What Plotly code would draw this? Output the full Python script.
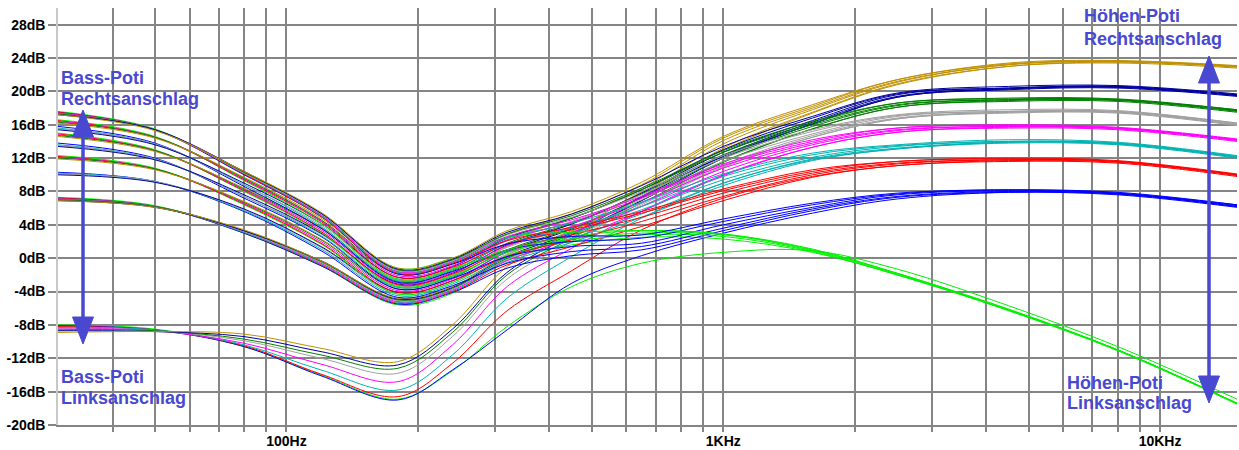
import math
import plotly.graph_objects as go

# ---------------- data ----------------
FREQ_HZ = [30, 50, 80, 120, 180, 240, 320, 450, 650, 1000, 1600, 2500, 4500, 8000, 15000]

# bass pot fully left (bottom group), treble positions T0..T8
B0_T0 = [-8.0, -8.5, -10.6, -14.0, -16.9, -13.5, -8.2, -3.4, -0.6, 0.7, 0.9, -1.3, -5.7, -10.6, -16.9]
B0_T1 = [-8.1, -8.6, -10.6, -14.1, -17.0, -13.4, -8.6, -3.0, 0.3, 3.0, 5.4, 7.1, 7.9, 7.7, 6.2]
B0_T2 = [-8.2, -8.6, -10.5, -13.9, -16.6, -12.6, -6.3, -1.5, 3.4, 7.2, 9.8, 11.1, 11.7, 11.5, 9.9]
B0_T3 = [-8.3, -8.6, -10.4, -13.4, -15.8, -11.6, -4.8, 0.2, 4.8, 9.0, 11.8, 13.1, 13.9, 13.7, 12.1]
B0_T4 = [-8.4, -8.7, -10.2, -12.7, -14.8, -10.4, -3.4, 1.2, 5.6, 10.0, 13.3, 15.1, 15.7, 15.5, 14.1]
B0_T5 = [-8.5, -8.7, -9.9, -12.0, -13.8, -9.4, -2.5, 2.0, 6.4, 11.0, 14.5, 16.7, 17.5, 17.5, 16.0]
B0_T6 = [-8.6, -8.7, -9.7, -11.6, -13.2, -8.9, -2.0, 2.4, 6.9, 11.6, 15.5, 18.1, 18.9, 18.9, 17.6]
B0_T7 = [-8.7, -8.8, -9.4, -11.2, -12.8, -8.5, -1.7, 2.8, 7.4, 12.2, 16.1, 19.3, 20.3, 20.5, 19.5]
B0_T8 = [-8.9, -8.8, -9.1, -10.8, -12.4, -8.0, -1.0, 3.2, 7.9, 13.0, 17.4, 20.8, 23.0, 23.5, 22.9]

B1_T0 = [7.3, 6.3, 3.0, -0.9, -5.6, -4.2, -0.2, 1.6, 2.5, 2.3, 0.7, -2.0, -6.3, -11.1, -17.5]
B1_T1 = [7.2, 6.2, 3.0, -0.9, -5.5, -4.1, -1.2, 0.3, 1.0, 3.3, 5.7, 7.3, 7.9, 7.6, 6.1]
B1_T2 = [7.2, 6.2, 3.1, -0.8, -5.4, -4.0, -0.8, 1.4, 3.8, 6.9, 9.7, 11.1, 11.6, 11.4, 9.8]
B1_T3 = [7.1, 6.2, 3.1, -0.7, -5.3, -3.9, -0.5, 1.9, 4.9, 8.7, 11.7, 13.1, 13.8, 13.6, 12.0]
B1_T4 = [7.1, 6.2, 3.2, -0.6, -5.2, -3.8, -0.3, 2.3, 5.6, 9.9, 13.3, 15.1, 15.6, 15.4, 14.0]
B1_T5 = [7.0, 6.2, 3.2, -0.5, -5.1, -3.7, -0.1, 2.6, 6.2, 10.9, 14.5, 16.7, 17.4, 17.4, 15.9]
B1_T6 = [7.0, 6.2, 3.3, -0.4, -5.0, -3.6, 0.0, 2.8, 6.6, 11.5, 15.5, 18.1, 18.8, 18.8, 17.5]
B1_T7 = [6.9, 6.1, 3.3, -0.3, -4.9, -3.5, 0.2, 3.0, 6.9, 12.0, 16.1, 19.3, 20.2, 20.4, 19.4]
B1_T8 = [6.9, 6.1, 3.4, -0.3, -4.8, -3.4, 0.4, 3.3, 7.3, 13.2, 17.5, 20.9, 23.0, 23.4, 22.8]

B2_T1 = [10.3, 9.2, 5.6, 0.9, -4.7, -3.3, -0.6, 0.8, 1.4, 3.6, 5.9, 7.4, 8.0, 7.7, 6.2]
B2_T3 = [10.2, 9.2, 5.7, 1.1, -4.5, -3.1, 0.1, 2.4, 5.3, 9.0, 11.9, 13.2, 13.9, 13.7, 12.1]
B2_T5 = [10.1, 9.2, 5.8, 1.3, -4.3, -2.9, 0.5, 3.1, 6.6, 11.2, 14.7, 16.8, 17.5, 17.5, 16.0]
B2_T7 = [10.0, 9.1, 5.9, 1.4, -4.1, -2.7, 0.8, 3.5, 7.3, 12.3, 16.3, 19.4, 20.3, 20.5, 19.5]

B3_T0 = [12.3, 10.8, 6.4, 1.7, -4.3, -2.9, 0.3, 2.0, 2.8, 2.6, 0.8, -2.0, -6.2, -11.0, -17.4]
B3_T2 = [12.2, 10.7, 6.5, 1.8, -4.1, -2.7, 0.2, 2.2, 4.4, 7.4, 10.0, 11.3, 11.8, 11.6, 10.0]
B3_T4 = [12.1, 10.7, 6.6, 2.0, -3.9, -2.5, 0.7, 3.1, 6.2, 10.4, 13.6, 15.3, 15.8, 15.6, 14.2]
B3_T6 = [12.0, 10.7, 6.7, 2.2, -3.7, -2.3, 1.0, 3.6, 7.2, 12.0, 15.8, 18.3, 19.0, 19.0, 17.7]
B3_T8 = [11.9, 10.6, 6.8, 2.3, -3.5, -2.1, 1.4, 4.1, 7.9, 13.7, 17.8, 21.1, 23.2, 23.6, 23.0]

B4_T1 = [13.8, 12.0, 7.2, 2.6, -3.7, -2.4, 0.2, 1.4, 1.8, 4.0, 6.1, 7.6, 8.1, 7.8, 6.3]
B4_T3 = [13.6, 11.9, 7.4, 2.7, -3.5, -2.2, 0.9, 3.0, 5.8, 9.4, 12.1, 13.4, 14.0, 13.8, 12.2]
B4_T5 = [13.5, 11.9, 7.4, 2.9, -3.3, -2.0, 1.3, 3.7, 7.0, 11.6, 14.9, 17.0, 17.6, 17.6, 16.1]
B4_T7 = [13.4, 11.8, 7.6, 3.0, -3.1, -1.8, 1.6, 4.1, 7.8, 12.7, 16.5, 19.6, 20.4, 20.6, 19.6]

B5_T0 = [15.0, 13.0, 8.0, 3.1, -3.4, -2.1, 0.7, 2.3, 3.0, 2.8, 0.9, -1.9, -6.2, -11.0, -17.4]
B5_T2 = [14.9, 12.9, 8.1, 3.2, -3.2, -1.9, 1.0, 2.8, 4.9, 7.8, 10.2, 11.4, 11.8, 11.6, 10.0]
B5_T4 = [14.8, 12.9, 8.2, 3.4, -3.0, -1.7, 1.5, 3.8, 6.7, 10.8, 13.8, 15.4, 15.8, 15.6, 14.2]
B5_T6 = [14.7, 12.9, 8.3, 3.6, -2.8, -1.5, 1.8, 4.2, 7.7, 12.4, 16.0, 18.4, 19.0, 19.0, 17.7]
B5_T8 = [14.6, 12.8, 8.4, 3.7, -2.6, -1.3, 2.2, 4.8, 8.4, 14.1, 18.0, 21.2, 23.2, 23.6, 23.0]

B6_T1 = [15.8, 13.8, 8.6, 3.6, -2.9, -1.6, 1.0, 2.0, 2.4, 4.4, 6.4, 7.7, 8.2, 7.8, 6.4]
B6_T3 = [15.6, 13.7, 8.8, 3.8, -2.7, -1.4, 1.7, 3.6, 6.2, 9.8, 12.4, 13.5, 14.0, 13.8, 12.2]
B6_T5 = [15.5, 13.7, 8.8, 4.0, -2.5, -1.2, 2.1, 4.4, 7.6, 12.0, 15.2, 17.1, 17.6, 17.6, 16.2]
B6_T7 = [15.4, 13.6, 9.0, 4.2, -2.3, -1.0, 2.4, 4.8, 8.2, 13.0, 16.8, 19.7, 20.4, 20.6, 19.6]

B7_T0 = [16.6, 14.6, 9.3, 4.2, -2.5, -1.3, 1.0, 2.6, 3.3, 2.9, 1.0, -1.8, -6.2, -11.0, -17.4]
B7_T2 = [16.5, 14.5, 9.4, 4.4, -2.3, -1.1, 1.7, 3.4, 5.4, 8.1, 10.4, 11.6, 11.9, 11.6, 10.0]
B7_T4 = [16.4, 14.5, 9.5, 4.5, -2.1, -0.9, 2.2, 4.3, 7.2, 11.1, 14.0, 15.6, 15.9, 15.6, 14.2]
B7_T6 = [16.3, 14.5, 9.6, 4.6, -1.9, -0.7, 2.5, 4.8, 8.2, 12.7, 16.2, 18.6, 19.1, 19.0, 17.8]
B7_T8 = [16.2, 14.4, 9.7, 4.8, -1.7, -0.5, 2.9, 5.3, 8.8, 14.4, 18.2, 21.4, 23.3, 23.6, 23.0]

B8_T0 = [17.6, 15.5, 10.1, 5.2, -1.2, 0.0, 2.5, 3.1, 3.3, 2.9, 1.1, -1.8, -6.1, -11.0, -17.4]
B8_T1 = [17.5, 15.4, 10.0, 5.0, -1.9, -0.7, 1.7, 2.6, 2.8, 4.7, 6.6, 7.8, 8.2, 7.9, 6.4]
B8_T2 = [17.5, 15.4, 10.1, 5.0, -1.8, -0.6, 2.1, 3.7, 5.6, 8.3, 10.6, 11.6, 12.0, 11.7, 10.1]
B8_T3 = [17.4, 15.4, 10.2, 5.1, -1.7, -0.5, 2.4, 4.2, 6.7, 10.1, 12.6, 13.6, 14.2, 13.9, 12.3]
B8_T4 = [17.4, 15.4, 10.2, 5.2, -1.6, -0.4, 2.6, 4.6, 7.4, 11.3, 14.2, 15.6, 16.0, 15.7, 14.3]
B8_T5 = [17.3, 15.4, 10.2, 5.3, -1.5, -0.3, 2.8, 4.9, 8.0, 12.3, 15.4, 17.2, 17.8, 17.7, 16.2]
B8_T6 = [17.3, 15.4, 10.3, 5.4, -1.4, -0.2, 2.9, 5.1, 8.4, 12.9, 16.4, 18.6, 19.2, 19.1, 17.8]
B8_T7 = [17.2, 15.4, 10.4, 5.4, -1.3, -0.1, 3.1, 5.3, 8.7, 13.4, 17.0, 19.8, 20.6, 20.7, 19.7]
B8_T8 = [17.2, 15.3, 10.4, 5.5, -1.2, 0.0, 3.3, 5.6, 9.1, 14.6, 18.4, 21.4, 23.4, 23.7, 23.1]

# trace colour for each treble-pot step
TREBLE_COLORS = ['#00F000', '#0000FF', '#FF0000', '#00B4B4', '#FF00FF',
                 '#A0A0A0', '#008000', '#0000A0', '#C09000']

CURVES = [
    (B0_T0, 0), (B0_T1, 1), (B0_T2, 2), (B0_T3, 3), (B0_T4, 4), (B0_T5, 5), (B0_T6, 6), (B0_T7, 7), (B0_T8, 8),
    (B1_T0, 0), (B1_T1, 1), (B1_T2, 2), (B1_T3, 3), (B1_T4, 4), (B1_T5, 5), (B1_T6, 6), (B1_T7, 7), (B1_T8, 8),
    (B2_T1, 1), (B2_T3, 3), (B2_T5, 5), (B2_T7, 7),
    (B3_T0, 0), (B3_T2, 2), (B3_T4, 4), (B3_T6, 6), (B3_T8, 8),
    (B4_T1, 1), (B4_T3, 3), (B4_T5, 5), (B4_T7, 7),
    (B5_T0, 0), (B5_T2, 2), (B5_T4, 4), (B5_T6, 6), (B5_T8, 8),
    (B6_T1, 1), (B6_T3, 3), (B6_T5, 5), (B6_T7, 7),
    (B7_T0, 0), (B7_T2, 2), (B7_T4, 4), (B7_T6, 6), (B7_T8, 8),
    (B8_T0, 0), (B8_T1, 1), (B8_T2, 2), (B8_T3, 3), (B8_T4, 4), (B8_T5, 5), (B8_T6, 6), (B8_T7, 7), (B8_T8, 8),
]

X_GRID_HZ = [40, 50, 60, 70, 80, 90, 100, 200, 300, 400, 500, 600, 700, 800, 900,
             1000, 2000, 3000, 4000, 5000, 6000, 7000, 8000, 9000, 10000]
X_LABELS = {100: '100Hz', 1000: '1KHz', 10000: '10KHz'}
Y_TICKS_DB = [-20, -16, -12, -8, -4, 0, 4, 8, 12, 16, 20, 24, 28]

# ---------------- figure ----------------
W, H = 1239, 450
ML, MR, MT, MB = 58, 2, 8, 25
PW, PH = W - ML - MR, H - MT - MB

def px_x(px):
    return (px - ML) / PW

def px_y(py):
    return (H - MB - py) / PH

fig = go.Figure()
for vals, t in CURVES:
    fig.add_trace(go.Scatter(
        x=FREQ_HZ, y=vals, mode='lines',
        line=dict(color=TREBLE_COLORS[t], width=1.0, shape='spline', smoothing=1.0),
        hoverinfo='skip', showlegend=False))

FONT = 'Liberation Sans, Arial, sans-serif'
BLUE = '#4848D0'

fig.update_layout(
    width=W, height=H,
    margin=dict(l=ML, r=MR, t=MT, b=MB, pad=0, autoexpand=False),
    paper_bgcolor='white', plot_bgcolor='white',
    showlegend=False,
    font=dict(family=FONT, color='black'),
    xaxis=dict(
        type='log', range=[math.log10(30), math.log10(15000)],
        tickvals=X_GRID_HZ, ticktext=[X_LABELS.get(v, '') for v in X_GRID_HZ],
        showgrid=True, gridcolor='#858585', gridwidth=1.5,
        ticks='outside', ticklen=5, tickwidth=1.5, tickcolor='#858585',
        ticklabelstandoff=-3,
        tickfont=dict(family=FONT, size=14, color='black', weight='bold'),
        showline=True, linecolor='#858585', linewidth=1.5,
        zeroline=False, fixedrange=True, automargin=False),
    yaxis=dict(
        range=[-20, 30],
        tickvals=Y_TICKS_DB, ticktext=[f'{v}dB' for v in Y_TICKS_DB],
        showgrid=True, gridcolor='#858585', gridwidth=1.5,
        ticks='outside', ticklen=8, tickwidth=1.5, tickcolor='#858585',
        tickfont=dict(family=FONT, size=14, color='black', weight='bold'),
        showline=True, linecolor='#C8C8C8', linewidth=1.5,
        zeroline=False, fixedrange=True, automargin=False),
)

# labels
LABELS = [
    ('Bass-Poti', 61, 76.7), ('Rechtsanschlag', 61, 97.5),
    ('Bass-Poti', 61, 375.5), ('Linksanschlag', 61, 396.5),
    ('Höhen-Poti', 1084, 15.0), ('Rechtsanschlag', 1084, 37.5),
    ('Höhen-Poti', 1067, 381.5), ('Linksanschlag', 1067, 401.5),
]
for text, lx, ly in LABELS:
    fig.add_annotation(text=text, xref='paper', yref='paper',
                       x=px_x(lx - 2), y=px_y(ly + 1), xanchor='left', yanchor='middle',
                       showarrow=False,
                       font=dict(family=FONT, size=18, color=BLUE, weight='bold'))

# double-headed arrows (pixel positions of the tips)
ARROWS = [(83, 110, 344), (1209, 56, 403)]
HEAD_LEN, HALF_W = 27, 10.5
for ax_px, top_tip, bot_tip in ARROWS:
    fig.add_shape(type='line', xref='paper', yref='paper',
                  x0=px_x(ax_px), x1=px_x(ax_px),
                  y0=px_y(top_tip + HEAD_LEN - 2), y1=px_y(bot_tip - HEAD_LEN + 2),
                  line=dict(color=BLUE, width=3.5))
    for tip, base in ((top_tip, top_tip + HEAD_LEN), (bot_tip, bot_tip - HEAD_LEN)):
        path = (f'M {px_x(ax_px - HALF_W)} {px_y(base)} '
                f'L {px_x(ax_px)} {px_y(tip)} '
                f'L {px_x(ax_px + HALF_W)} {px_y(base)} Z')
        fig.add_shape(type='path', xref='paper', yref='paper', path=path,
                      fillcolor=BLUE, line=dict(color=BLUE, width=1))

fig.write_html('out.html', config={'displayModeBar': False},
               post_script="document.body.style.margin='0px';document.body.style.overflow='hidden';")
